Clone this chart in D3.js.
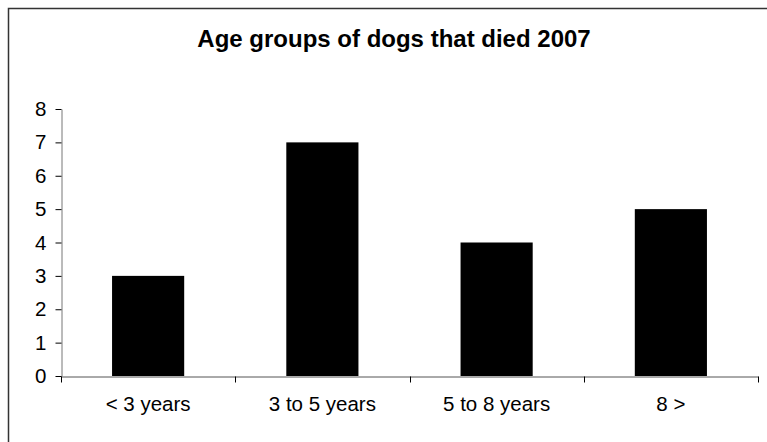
<!DOCTYPE html>
<html>
<head>
<meta charset="utf-8">
<script src="https://cdn.jsdelivr.net/npm/d3@7"></script>
<style>
body { margin: 0; background: #fff; }
text { font-family: Arial, "Liberation Sans", sans-serif; }
</style>
</head>
<body>
<div id="chart"></div>
<script>
var categories = ["< 3 years", "3 to 5 years", "5 to 8 years", "8 >"];
var values = [3, 7, 4, 5];
var yTicks = [0, 1, 2, 3, 4, 5, 6, 7, 8];
var title = "Age groups of dogs that died 2007";

var width = 767, height = 442;
var margin = {top: 109, right: 9, bottom: 65, left: 61};

var svg = d3.select("#chart").append("svg")
    .attr("width", width)
    .attr("height", height);

svg.append("rect")
    .attr("width", width)
    .attr("height", height)
    .attr("fill", "#fff");

// outer frame, runs off the right and bottom edges
svg.append("rect")
    .attr("x", 8.5)
    .attr("y", 8.5)
    .attr("width", 900)
    .attr("height", 600)
    .attr("fill", "none")
    .attr("stroke", "#333")
    .attr("stroke-width", 1.5);

svg.append("text")
    .attr("x", 394)
    .attr("y", 47)
    .attr("text-anchor", "middle")
    .attr("font-size", 24)
    .attr("font-weight", "bold")
    .text(title);

var x = d3.scaleBand()
    .domain(categories)
    .range([margin.left, width - margin.right])
    .paddingInner(0.586)
    .paddingOuter(0.293);

var y = d3.scaleLinear()
    .domain([0, 8])
    .range([height - margin.bottom - 1, margin.top]);

var g = svg.append("g");

g.selectAll(".bar")
    .data(values)
    .enter()
    .append("rect")
    .attr("class", "bar")
    .attr("x", function(d, i) { return x(categories[i]); })
    .attr("y", function(d) { return y(d); })
    .attr("width", x.bandwidth())
    .attr("height", function(d) { return y(0) - y(d); })
    .attr("fill", "#000");

// y axis
var yAxis = svg.append("g")
    .attr("transform", "translate(" + (margin.left + 0.5) + ",0)")
    .call(d3.axisLeft(y).tickValues(yTicks).tickSize(6).tickPadding(9).tickSizeOuter(0));
yAxis.select(".domain").attr("stroke", "#777");
yAxis.selectAll(".tick line").attr("stroke", "#000");
yAxis.selectAll(".tick text")
    .attr("font-size", 20.5)
    .attr("font-family", "Arial, 'Liberation Sans', sans-serif")
    .attr("fill", "#000");

// x axis: labels at band centres, ticks on band edges
var xAxis = svg.append("g")
    .attr("transform", "translate(0," + (Math.round(y(0)) + 0.5) + ")")
    .call(d3.axisBottom(x).tickSize(0).tickPadding(20).tickSizeOuter(0));
xAxis.select(".domain").attr("stroke", "#555");
xAxis.selectAll(".tick text")
    .attr("font-size", 20.5)
    .attr("font-family", "Arial, 'Liberation Sans', sans-serif")
    .attr("fill", "#000");

var edges = d3.range(categories.length + 1).map(function(i) {
    return x.range()[0] + i * x.step();
});
xAxis.selectAll(".edge")
    .data(edges)
    .enter()
    .append("line")
    .attr("class", "edge")
    .attr("x1", function(d) { return Math.round(d) + 0.5; })
    .attr("x2", function(d) { return Math.round(d) + 0.5; })
    .attr("y1", 0)
    .attr("y2", 6)
    .attr("stroke", "#000");
</script>
</body>
</html>
